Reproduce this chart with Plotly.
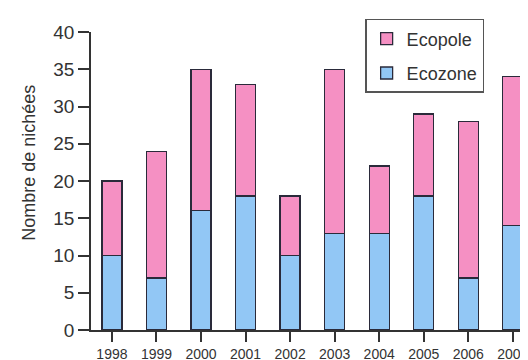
import plotly.graph_objects as go

annees = ["1998", "1999", "2000", "2001", "2002", "2003", "2004", "2005", "2006", "2007"]
ecozone = [10, 7, 16, 18, 10, 13, 13, 18, 7, 14]
ecopole = [10, 17, 19, 15, 8, 22, 9, 11, 21, 20]

rose = "#F590C3"
bleu = "#92C7F5"
police = "Liberation Sans, Arial, sans-serif"

fig = go.Figure()

# empilement : Ecozone en bas, Ecopole au-dessus
fig.add_trace(go.Bar(
    x=annees, y=ecozone, name="Ecozone",
    marker=dict(color=bleu, line=dict(color="#2a2a3a", width=1.3)),
    width=0.45, legendgroup="b", legendrank=2,
))
fig.add_trace(go.Bar(
    x=annees, y=ecopole, name="Ecopole",
    marker=dict(color=rose, line=dict(color="#2a2a3a", width=1.3)),
    width=0.45, legendgroup="a", legendrank=1,
))

fig.update_layout(
    barmode="stack",
    width=528, height=360,
    margin=dict(l=83, r=0, t=24, b=38, autoexpand=False),
    plot_bgcolor="white", paper_bgcolor="white",
    font=dict(family=police, color="#333333"),
    legend=dict(
        x=0.616, y=1.044, xanchor="left", yanchor="top",
        traceorder="grouped", tracegroupgap=8,
        bordercolor="#555555", borderwidth=1.5,
        font=dict(size=18, color="#333333"),
        bgcolor="white",
    ),
)

fig.update_xaxes(
    type="category", range=[-0.47, 9.52],
    showline=True, linecolor="#333333", linewidth=1.5,
    ticks="outside", ticklen=10, tickwidth=1.5, tickcolor="#333333",
    tickfont=dict(size=14, color="#333333"),
    showgrid=False, zeroline=False,
)
fig.update_yaxes(
    range=[0, 40], tickvals=[0, 5, 10, 15, 20, 25, 30, 35, 40],
    showline=True, linecolor="#333333", linewidth=1.5,
    ticks="outside", ticklen=11, tickwidth=1.5, tickcolor="#333333",
    tickfont=dict(size=19, color="#333333"),
    showgrid=False, zeroline=False,
)

fig.add_annotation(
    text="Nombre de nichées", textangle=-90,
    xref="paper", yref="paper", x=-0.14, y=0.56,
    xanchor="center", yanchor="middle", showarrow=False,
    font=dict(size=18, color="#333333"),
)

fig.write_html("out.html")
